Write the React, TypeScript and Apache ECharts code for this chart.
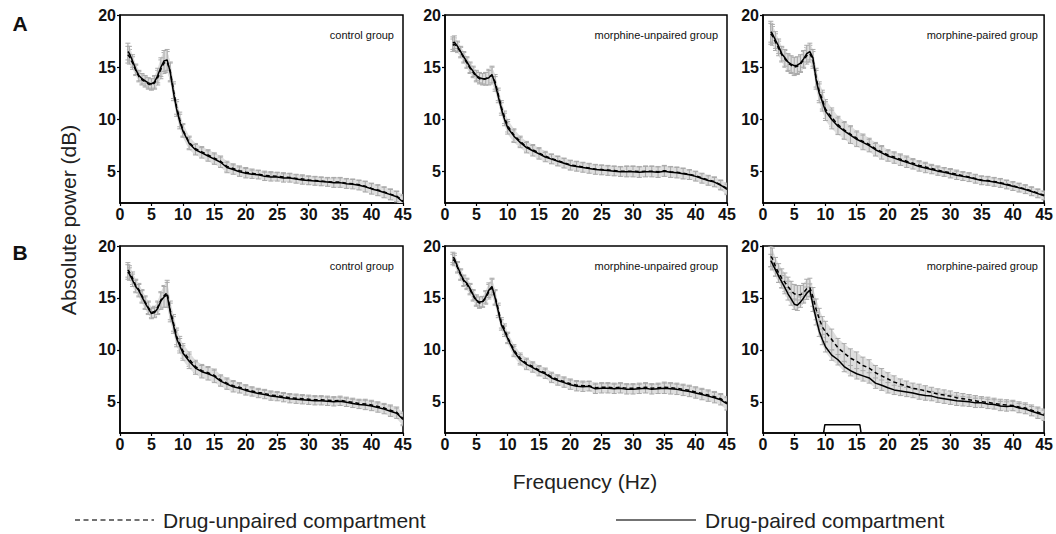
import React, { useEffect, useRef } from 'react';
import * as echarts from 'echarts';

// Frequencies (Hz) at which values were read
const FREQ = [1.25, 1.5, 2, 2.5, 3, 3.5, 4, 4.5, 5, 5.5, 6, 6.5, 7, 7.5, 8, 8.5, 9, 9.5, 10,
  11, 12, 13, 14, 15, 16, 17, 18, 19, 20,
  21, 22, 23, 24, 25, 26, 27, 28, 29, 30,
  31, 32, 33, 34, 35, 36, 37, 38, 39, 40,
  41, 42, 43, 44, 45];

const X_TICKS = [0, 5, 10, 15, 20, 25, 30, 35, 40, 45];
const Y_TICKS = [5, 10, 15, 20];

const GROUP_NAMES = ['control group', 'morphine-unpaired group', 'morphine-paired group',
  'control group', 'morphine-unpaired group', 'morphine-paired group'];

// Row A — control
const A1_P = [16.5, 16.3, 15.6, 14.8, 14.2, 13.9, 13.7, 13.5, 13.4, 13.6, 14.2, 15.0, 15.6, 15.7, 14.5, 12.6, 11.0, 9.8, 8.9,
  7.7, 7.1, 6.8, 6.5, 6.2, 5.9, 5.4, 5.2, 5.0, 4.85,
  4.75, 4.7, 4.55, 4.5, 4.5, 4.4, 4.4, 4.3, 4.2, 4.15,
  4.1, 4.05, 4.0, 3.95, 3.95, 3.85, 3.8, 3.7, 3.55, 3.35,
  3.2, 3.0, 2.8, 2.6, 2.1];
const A1_U = [16.2, 16.0, 15.4, 14.7, 14.1, 13.8, 13.6, 13.4, 13.3, 13.5, 14.0, 14.8, 15.4, 15.5, 14.6, 12.8, 11.2, 10.0, 9.0,
  7.8, 7.2, 6.9, 6.6, 6.3, 6.0, 5.5, 5.3, 5.1, 4.95,
  4.85, 4.75, 4.65, 4.6, 4.55, 4.5, 4.45, 4.35, 4.3, 4.2,
  4.15, 4.1, 4.05, 4.0, 4.0, 3.9, 3.85, 3.75, 3.6, 3.4,
  3.25, 3.05, 2.85, 2.65, 2.2];
const A1_ERR = [0.8, 0.7, 0.6, 0.5, 0.5, 0.5, 0.5, 0.5, 0.5, 0.6, 0.7, 0.9, 1.0, 1.0, 0.9, 0.8, 0.7, 0.7, 0.6,
  0.6, 0.5, 0.5, 0.5, 0.5, 0.5, 0.5, 0.45, 0.45, 0.45,
  0.4, 0.4, 0.4, 0.4, 0.4, 0.4, 0.4, 0.4, 0.4, 0.4,
  0.4, 0.4, 0.4, 0.45, 0.45, 0.45, 0.45, 0.45, 0.5, 0.5,
  0.5, 0.5, 0.5, 0.5, 0.6];

// Row A — morphine-unpaired
const A2_P = [17.3, 17.4, 17.0, 16.5, 16.0, 15.5, 15.0, 14.6, 14.2, 14.0, 13.9, 13.9, 14.0, 14.3, 13.4, 12.2, 11.0, 10.0, 9.2,
  8.4, 7.8, 7.3, 7.0, 6.7, 6.4, 6.2, 6.0, 5.8, 5.6,
  5.5, 5.4, 5.3, 5.2, 5.15, 5.1, 5.05, 5.0, 5.0, 5.0,
  4.95, 5.0, 5.0, 4.95, 5.05, 4.95, 4.9, 4.8, 4.7, 4.55,
  4.35, 4.15, 4.0, 3.7, 3.3];
const A2_U = [17.1, 17.2, 16.9, 16.4, 15.9, 15.4, 14.9, 14.5, 14.1, 13.9, 13.8, 13.9, 14.1, 14.2, 13.6, 12.4, 11.2, 10.2, 9.4,
  8.5, 7.9, 7.4, 7.1, 6.8, 6.5, 6.25, 6.05, 5.85, 5.65,
  5.55, 5.45, 5.35, 5.25, 5.2, 5.15, 5.1, 5.05, 5.05, 5.05,
  5.0, 5.05, 5.05, 5.0, 5.1, 5.0, 4.95, 4.85, 4.75, 4.6,
  4.4, 4.2, 4.05, 3.75, 3.4];
const A2_ERR = [0.6, 0.6, 0.5, 0.5, 0.5, 0.5, 0.5, 0.5, 0.5, 0.5, 0.5, 0.6, 0.7, 0.8, 0.7, 0.6, 0.6, 0.6, 0.6,
  0.6, 0.5, 0.5, 0.5, 0.5, 0.45, 0.45, 0.45, 0.45, 0.45,
  0.45, 0.45, 0.45, 0.45, 0.45, 0.45, 0.45, 0.45, 0.5, 0.5,
  0.5, 0.5, 0.5, 0.5, 0.5, 0.5, 0.5, 0.5, 0.45, 0.45,
  0.45, 0.45, 0.45, 0.45, 0.5];

// Row A — morphine-paired
const A3_P = [18.4, 18.2, 17.6, 17.0, 16.3, 15.9, 15.5, 15.3, 15.15, 15.2, 15.4, 15.8, 16.3, 16.5, 15.9, 13.8, 12.5, 11.7, 10.8,
  10.0, 9.35, 8.9, 8.5, 8.1, 7.8, 7.5, 7.1, 6.8, 6.5,
  6.3, 6.1, 5.9, 5.7, 5.5, 5.35, 5.2, 5.05, 4.95, 4.8,
  4.65, 4.55, 4.45, 4.3, 4.15, 4.1, 4.0, 3.9, 3.75, 3.6,
  3.45, 3.3, 3.1, 2.9, 2.7];
const A3_U = [18.2, 18.0, 17.4, 16.8, 16.2, 15.8, 15.4, 15.2, 15.0, 15.1, 15.3, 15.7, 16.1, 16.3, 15.7, 14.0, 12.7, 11.9, 11.0,
  10.2, 9.5, 9.0, 8.6, 8.2, 7.9, 7.6, 7.2, 6.9, 6.6,
  6.4, 6.2, 6.0, 5.8, 5.6, 5.45, 5.3, 5.15, 5.0, 4.9,
  4.75, 4.6, 4.5, 4.35, 4.2, 4.15, 4.05, 3.95, 3.8, 3.65,
  3.5, 3.35, 3.15, 2.95, 2.75];
const A3_ERR = [1.0, 0.9, 0.8, 0.7, 0.7, 0.8, 0.8, 0.8, 0.8, 0.8, 0.8, 0.8, 0.8, 0.8, 0.8, 0.9, 0.9, 0.9, 0.9,
  0.9, 0.8, 0.8, 0.8, 0.7, 0.7, 0.6, 0.6, 0.6, 0.5,
  0.5, 0.5, 0.5, 0.45, 0.45, 0.45, 0.4, 0.4, 0.4, 0.4,
  0.4, 0.4, 0.4, 0.4, 0.4, 0.4, 0.4, 0.4, 0.4, 0.4,
  0.4, 0.4, 0.4, 0.4, 0.4];

// Row B — control
const B1_P = [17.5, 17.3, 16.7, 16.1, 15.7, 15.1, 14.5, 14.0, 13.5, 13.6, 14.0, 14.7, 15.1, 15.3, 13.6, 12.4, 11.1, 10.4, 9.7,
  8.9, 8.25, 7.9, 7.7, 7.45, 7.0, 6.7, 6.45, 6.3, 6.1,
  5.95, 5.8, 5.7, 5.55, 5.5, 5.4, 5.3, 5.25, 5.2, 5.15,
  5.1, 5.1, 5.05, 5.0, 5.05, 4.95, 4.85, 4.75, 4.7, 4.6,
  4.45, 4.3, 4.1, 3.9, 3.3];
const B1_U = [17.7, 17.5, 16.9, 16.2, 15.8, 15.2, 14.6, 14.1, 13.6, 13.7, 14.1, 14.8, 15.2, 15.5, 13.8, 12.6, 11.3, 10.6, 9.9,
  9.1, 8.4, 8.0, 7.8, 7.55, 7.1, 6.8, 6.55, 6.4, 6.2,
  6.05, 5.9, 5.8, 5.65, 5.6, 5.5, 5.4, 5.35, 5.3, 5.25,
  5.2, 5.2, 5.15, 5.1, 5.15, 5.05, 4.95, 4.85, 4.8, 4.7,
  4.55, 4.4, 4.2, 4.0, 3.4];
const B1_ERR = [0.7, 0.6, 0.6, 0.6, 0.6, 0.6, 0.6, 0.6, 0.5, 0.5, 0.6, 0.8, 1.0, 1.2, 0.9, 0.8, 0.8, 0.7, 0.7,
  0.7, 0.6, 0.6, 0.6, 0.6, 0.5, 0.5, 0.5, 0.45, 0.45,
  0.4, 0.4, 0.4, 0.4, 0.4, 0.4, 0.4, 0.4, 0.4, 0.4,
  0.4, 0.4, 0.4, 0.4, 0.4, 0.4, 0.4, 0.4, 0.45, 0.45,
  0.45, 0.45, 0.5, 0.5, 0.6];

// Row B — morphine-unpaired
const B2_P = [18.9, 18.8, 18.0, 17.3, 16.7, 16.4, 15.9, 15.3, 14.8, 14.6, 14.65, 15.1, 15.75, 16.1, 15.0, 13.7, 12.4, 11.8, 11.1,
  9.85, 9.05, 8.6, 8.3, 7.95, 7.7, 7.3, 7.05, 6.85, 6.65,
  6.5, 6.45, 6.5, 6.25, 6.3, 6.3, 6.25, 6.3, 6.2, 6.2,
  6.25, 6.3, 6.2, 6.25, 6.3, 6.25, 6.2, 6.1, 6.0, 5.85,
  5.7, 5.55, 5.4, 5.2, 4.8];
const B2_U = [18.7, 18.6, 17.9, 17.2, 16.6, 16.3, 15.8, 15.2, 14.7, 14.5, 14.6, 15.0, 15.6, 16.0, 15.1, 13.9, 12.6, 12.0, 11.2,
  10.0, 9.2, 8.7, 8.4, 8.05, 7.8, 7.4, 7.15, 6.95, 6.75,
  6.6, 6.55, 6.55, 6.35, 6.4, 6.4, 6.35, 6.4, 6.3, 6.3,
  6.35, 6.4, 6.3, 6.35, 6.4, 6.35, 6.3, 6.2, 6.1, 5.95,
  5.8, 5.65, 5.5, 5.3, 4.9];
const B2_ERR = [0.5, 0.5, 0.5, 0.5, 0.5, 0.5, 0.5, 0.5, 0.5, 0.5, 0.5, 0.6, 0.7, 0.8, 0.7, 0.6, 0.5, 0.5, 0.5,
  0.5, 0.5, 0.5, 0.45, 0.45, 0.45, 0.45, 0.45, 0.45, 0.45,
  0.45, 0.45, 0.45, 0.45, 0.45, 0.45, 0.45, 0.45, 0.45, 0.45,
  0.45, 0.45, 0.45, 0.45, 0.5, 0.5, 0.5, 0.5, 0.5, 0.5,
  0.5, 0.5, 0.5, 0.5, 0.6];

// Row B — morphine-paired
const B3_P = [18.6, 18.3, 17.7, 17.1, 16.55, 16.0, 15.4, 14.9, 14.4, 14.3, 14.6, 15.0, 15.45, 15.75, 14.3, 13.0, 11.8, 11.0, 10.3,
  9.5, 9.05, 8.4, 8.0, 7.7, 7.5, 7.3, 6.8, 6.6, 6.35,
  6.15, 6.05, 5.95, 5.85, 5.7, 5.6, 5.55, 5.4, 5.3, 5.2,
  5.1, 5.05, 5.0, 4.9, 4.9, 4.8, 4.75, 4.6, 4.55, 4.6,
  4.4, 4.3, 4.1, 3.9, 3.7];
const B3_U = [19.0, 18.8, 18.0, 17.4, 16.9, 16.5, 16.1, 15.7, 15.4, 15.3, 15.3, 15.5, 15.9, 16.0, 15.1, 13.9, 13.0, 12.2, 11.75,
  11.0, 10.2, 9.7, 9.2, 8.9, 8.5, 8.25, 7.8, 7.5, 7.2,
  6.9, 6.7, 6.5, 6.3, 6.2, 6.05, 5.9, 5.75, 5.65, 5.55,
  5.4, 5.3, 5.2, 5.1, 5.0, 4.95, 4.85, 4.75, 4.7, 4.65,
  4.5, 4.4, 4.2, 4.0, 3.8];
const B3_ERR_P = [0.6, 0.6, 0.6, 0.6, 0.6, 0.6, 0.6, 0.6, 0.5, 0.5, 0.5, 0.5, 0.6, 0.6, 0.6, 0.6, 0.5, 0.5, 0.5,
  0.5, 0.5, 0.5, 0.5, 0.5, 0.5, 0.5, 0.5, 0.5, 0.5,
  0.45, 0.45, 0.45, 0.45, 0.45, 0.45, 0.45, 0.45, 0.45, 0.45,
  0.45, 0.45, 0.45, 0.45, 0.45, 0.45, 0.45, 0.45, 0.45, 0.45,
  0.45, 0.45, 0.45, 0.5, 0.5];
const B3_ERR_U = [1.0, 1.0, 0.9, 0.9, 0.9, 0.9, 0.9, 0.9, 0.9, 0.9, 0.9, 0.9, 0.9, 0.9, 0.9, 1.0, 1.0, 1.0, 1.0,
  1.0, 0.9, 0.9, 0.9, 0.9, 0.8, 0.8, 0.7, 0.7, 0.6,
  0.6, 0.5, 0.5, 0.5, 0.5, 0.5, 0.5, 0.5, 0.5, 0.5,
  0.5, 0.5, 0.5, 0.5, 0.5, 0.5, 0.5, 0.5, 0.5, 0.5,
  0.5, 0.5, 0.5, 0.5, 0.5];

// Significance bracket in B / morphine-paired
const BRACKET_X = [9.7, 9.9, 15.5, 15.7];
const BRACKET_Y = [2, 2.8, 2.8, 2];

const PAIRED = [A1_P, A2_P, A3_P, B1_P, B2_P, B3_P];
const UNPAIRED = [A1_U, A2_U, A3_U, B1_U, B2_U, B3_U];
const ERR_P = [A1_ERR, A2_ERR, A3_ERR, B1_ERR, B2_ERR, B3_ERR_P];
const ERR_U = [A1_ERR, A2_ERR, A3_ERR, B1_ERR, B2_ERR, B3_ERR_U];

const NAME_U = 'Drug-unpaired compartment';
const NAME_P = 'Drug-paired compartment';

const GRID_LEFT = [120, 445, 763];
const GRID_W = [283, 282, 284];
const GRID_TOP = [15, 246];
const GRID_H = [188, 187];

const FONT = '"Liberation Sans", Arial, Helvetica, sans-serif';

function errSeries(g: number, vals: number[], errs: number[]) {
  const data = FREQ.map((f, i) => [f, vals[i] - errs[i], vals[i] + errs[i]]);
  return {
    type: 'custom',
    xAxisIndex: g,
    yAxisIndex: g,
    silent: true,
    clip: true,
    z: 1,
    encode: { x: 0, y: [1, 2] },
    data,
    renderItem: (params: any, api: any) => {
      const i = params.dataIndex;
      const x = api.value(0);
      const pLo = api.coord([x, api.value(1)]);
      const pHi = api.coord([x, api.value(2)]);
      const children: any[] = [];
      if (i < data.length - 1) {
        const n = data[i + 1];
        const qLo = api.coord([n[0], n[1]]);
        const qHi = api.coord([n[0], n[2]]);
        children.push({
          type: 'polygon',
          shape: { points: [pLo, qLo, qHi, pHi] },
          style: { fill: '#dedede', stroke: 'none' },
        });
      }
      const st = { stroke: '#a9a9a9', lineWidth: 1 };
      children.push({ type: 'line', shape: { x1: pLo[0], y1: pLo[1], x2: pHi[0], y2: pHi[1] }, style: st });
      children.push({ type: 'line', shape: { x1: pLo[0] - 2.5, y1: pLo[1], x2: pLo[0] + 2.5, y2: pLo[1] }, style: st });
      children.push({ type: 'line', shape: { x1: pHi[0] - 2.5, y1: pHi[1], x2: pHi[0] + 2.5, y2: pHi[1] }, style: st });
      return { type: 'group', children };
    },
  };
}

function buildOption() {
  const grid: any[] = [];
  const xAxis: any[] = [];
  const yAxis: any[] = [];
  const series: any[] = [];
  const graphic: any[] = [];

  for (let g = 0; g < 6; g++) {
    const row = Math.floor(g / 3);
    const col = g % 3;
    grid.push({
      left: GRID_LEFT[col], top: GRID_TOP[row], width: GRID_W[col], height: GRID_H[row],
      show: true, borderColor: '#000', borderWidth: 1.5, backgroundColor: 'transparent',
    });
    xAxis.push({
      gridIndex: g, type: 'value', min: 0, max: 45, interval: 5,
      axisLine: { show: true, onZero: false, lineStyle: { color: '#000', width: 1.5 } },
      axisTick: { show: true, length: 3, lineStyle: { color: '#000', width: 1.2 } },
      axisLabel: {
        fontSize: 16, fontWeight: 'bold', color: '#111', margin: 3, fontFamily: FONT,
        showMinLabel: true, showMaxLabel: true,
        customValues: X_TICKS,
      },
      splitLine: { show: false },
    });
    yAxis.push({
      gridIndex: g, type: 'value', min: 2, max: 20,
      axisLine: { show: true, onZero: false, lineStyle: { color: '#000', width: 1.5 } },
      axisTick: { show: true, length: 3, customValues: Y_TICKS, lineStyle: { color: '#000', width: 1.2 } },
      axisLabel: {
        fontSize: 16, fontWeight: 'bold', color: '#111', margin: 4, fontFamily: FONT,
        customValues: Y_TICKS,
      },
      splitLine: { show: false },
    });

    series.push(errSeries(g, UNPAIRED[g], ERR_U[g]));
    series.push(errSeries(g, PAIRED[g], ERR_P[g]));
    series.push({
      name: NAME_P, type: 'line', xAxisIndex: g, yAxisIndex: g,
      data: FREQ.map((f, i) => [f, PAIRED[g][i]]),
      symbol: 'none', showSymbol: false, z: 3,
      lineStyle: { color: '#000', width: 1.5, type: 'solid' },
      itemStyle: { color: '#000' },
    });
    series.push({
      name: NAME_U, type: 'line', xAxisIndex: g, yAxisIndex: g,
      data: FREQ.map((f, i) => [f, UNPAIRED[g][i]]),
      symbol: 'none', showSymbol: false, z: 4,
      lineStyle: { color: '#000', width: 1.5, type: [4, 3] },
      itemStyle: { color: '#000' },
    });

    graphic.push({
      type: 'text',
      x: GRID_LEFT[col] + GRID_W[col] - 9,
      y: GRID_TOP[row] + 20,
      style: {
        text: GROUP_NAMES[g], fill: '#111', font: `11px ${FONT}`,
        textAlign: 'right', textVerticalAlign: 'middle',
      },
    });
  }

  series.push({
    type: 'line', xAxisIndex: 5, yAxisIndex: 5, silent: true,
    data: BRACKET_X.map((x, i) => [x, BRACKET_Y[i]]),
    symbol: 'none', z: 5,
    lineStyle: { color: '#000', width: 1.5 },
  });

  const LEG_Y = 520;
  graphic.push(
    { type: 'text', x: 20, y: 23, style: { text: 'A', fill: '#111', font: `bold 21px ${FONT}`, textAlign: 'center', textVerticalAlign: 'middle' } },
    { type: 'text', x: 20, y: 252, style: { text: 'B', fill: '#111', font: `bold 21px ${FONT}`, textAlign: 'center', textVerticalAlign: 'middle' } },
    { type: 'text', x: 68, y: 220, rotation: Math.PI / 2, style: { text: 'Absolute power (dB)', fill: '#222', font: `21px ${FONT}`, textAlign: 'center', textVerticalAlign: 'middle' } },
    { type: 'text', x: 585, y: 481, style: { text: 'Frequency (Hz)', fill: '#222', font: `21px ${FONT}`, textAlign: 'center', textVerticalAlign: 'middle' } },
    // legend
    { type: 'line', shape: { x1: 75, y1: LEG_Y, x2: 154, y2: LEG_Y }, style: { stroke: '#444', lineWidth: 1.5, lineDash: [5, 3.5] } },
    { type: 'text', x: 163, y: LEG_Y, style: { text: NAME_U, fill: '#222', font: `21px ${FONT}`, textAlign: 'left', textVerticalAlign: 'middle' } },
    { type: 'line', shape: { x1: 616, y1: LEG_Y, x2: 696, y2: LEG_Y }, style: { stroke: '#444', lineWidth: 1.5 } },
    { type: 'text', x: 705, y: LEG_Y, style: { text: NAME_P, fill: '#222', font: `21px ${FONT}`, textAlign: 'left', textVerticalAlign: 'middle' } },
  );

  return {
    animation: false,
    backgroundColor: '#fff',
    grid, xAxis, yAxis, series, graphic,
  };
}

export default function App() {
  const ref = useRef<HTMLDivElement>(null);
  useEffect(() => {
    const chart = echarts.init(ref.current as HTMLDivElement, null, { renderer: 'svg' });
    chart.setOption(buildOption() as any);
    return () => chart.dispose();
  }, []);
  return (
    <div
      ref={ref}
      style={{ position: 'absolute', left: 0, top: 0, width: 1056, height: 534, background: '#fff' }}
    />
  );
}
